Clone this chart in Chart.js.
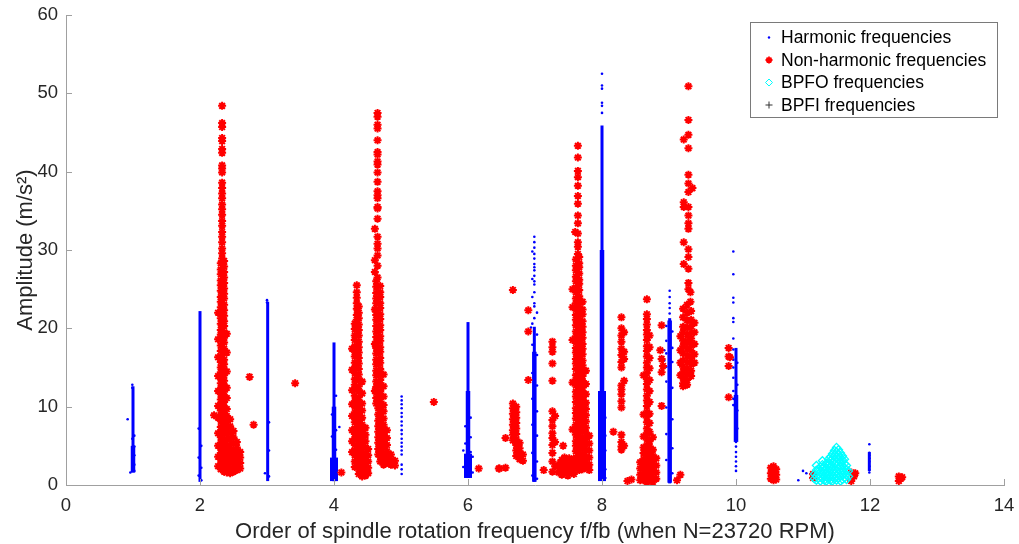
<!DOCTYPE html>
<html>
<head>
<meta charset="utf-8">
<script src="https://cdn.jsdelivr.net/npm/chart.js@4.4.0/dist/chart.umd.min.js"></script>
<style>
  html, body { margin: 0; padding: 0; background: #fff; }
  #wrap { width: 1019px; height: 544px; }
</style>
</head>
<body>
<div id="wrap"><canvas id="spectrumChart" width="1019" height="544"></canvas></div>
<script>
// x ticks and y ticks
const xTicks = [0, 2, 4, 6, 8, 10, 12, 14];
const yTicks = [0, 10, 20, 30, 40, 50, 60];

// harmonic columns: dense parts as segments [order, low, high]
const harmonicThin = [[1.0, 1.6, 12.6], [2.0, 0.4, 22.2], [3.01, 0.5, 23.4], [4.0, 0.5, 18.2], [6.0, 0.9, 20.8], [6.99, 0.4, 20.2], [8.0, 0.5, 45.9], [9.01, 0.2, 21.3], [10.0, 6.1, 17.5], [11.99, 1.8, 4.2]];
const harmonicBody = [[1.0, 1.6, 5.0], [4.0, 0.5, 10.0], [6.0, 0.9, 12.0], [6.99, 0.4, 17.0], [8.0, 0.5, 30.0], [9.01, 0.3, 21.0], [10.0, 5.5, 11.5]];
const harmonicBase = [[4.0, 0.5, 3.5], [6.0, 0.9, 4.0], [8.0, 0.5, 12.0]];

// harmonic single points [order, [amplitudes]]
const harmonicDots = [
    [0.92, [8.4]], [0.96, [1.6]], [0.99, [12.8, 12.4, 5.9, 4.6, 3.2, 2.0]], [1.02, [6.3, 4.9, 3.8, 2.6, 1.8]],
    [1.98, [7.2, 3.5, 1.2]], [2.02, [5.0, 2.2, 0.6]],
    [2.97, [1.5]], [3.0, [23.6, 23.3]], [3.03, [8.0, 4.4, 1.1]],
    [3.97, [9.0, 6.2, 3.1, 1.4, 0.7]], [4.03, [11.4, 7.0, 4.5, 2.2, 0.9]], [4.08, [7.4]],
    [5.01, [11.3, 10.8, 10.3, 9.8, 9.2, 8.7, 8.1, 7.6, 7.0, 6.5, 5.9, 5.4, 4.9, 4.4, 3.9, 2.6, 2.0, 1.4]],
    [5.96, [7.5, 5.3, 3.4, 1.9, 1.1]], [6.04, [8.6, 6.1, 4.2, 2.7, 1.3]], [5.93, [4.4, 2.3]], [6.07, [3.6, 1.6]],
    [6.99, [31.7, 31.0, 30.3, 29.5, 28.9, 28.2, 27.8, 27.4, 26.7, 26.0, 25.6, 24.6, 23.2, 22.8, 21.3]],
    [6.96, [29.8, 26.3, 24.0, 20.6, 17.9, 14.3, 11.0, 7.7, 4.1, 1.2]], [7.03, [22.0, 19.2, 16.6, 12.7, 9.4, 6.3, 3.0, 0.8]], [6.94, [20.1]],
    [8.0, [52.5, 51.0, 50.6, 48.8, 48.4, 47.5]], [7.96, [9.5, 7.4, 5.2, 3.1, 1.2]], [8.05, [8.6, 6.3, 4.4, 2.0, 0.9]],
    [9.01, [24.8, 24.0, 23.2, 22.6, 21.9]], [8.96, [20.3, 18.4, 16.8, 15.1, 13.2, 9.9, 6.5, 3.2]], [9.05, [19.6, 17.5, 15.7, 12.4, 8.4, 4.7, 1.5]], [8.93, [17.2, 15.9]],
    [9.96, [29.8, 26.9, 23.9, 23.3, 21.3, 20.8, 18.7, 17.3, 16.0, 15.0, 13.7, 12.0, 11.0, 10.2]], [10.0, [5.5, 4.9, 4.2, 3.6, 3.0, 2.4, 1.8]], [10.02, [15.6, 12.8, 9.5, 7.2]],
    [10.93, [0.6]], [11.0, [1.8]], [11.05, [1.5]],
    [11.99, [5.2, 4.1, 3.8, 3.4, 3.0, 2.4, 1.9, 1.6]]
];

// non-harmonic clusters [order, [amplitudes]]
const redNear2 = [
    [2.33, [48.4, 46.2, 45.7, 44.3, 43.9, 42.9, 42.4, 40.8, 40.4, 39.9, 38.6, 37.9, 37.2, 36.6, 35.8, 35.2, 34.5, 33.7, 33.1, 32.3, 31.7, 31.0, 30.2, 29.6, 28.9]],
    [2.31, [28.3, 27.5, 26.9, 26.1, 25.5, 24.8, 24.0, 23.4, 22.7, 21.9, 21.3, 20.6, 19.8, 19.2, 18.5, 17.8, 17.1, 16.4, 15.7, 15.0, 14.4, 13.6, 13.0, 12.3, 11.6, 10.9, 10.3, 9.5, 8.9, 8.2, 7.4, 6.8, 6.1, 5.4, 4.7, 4.1, 3.3, 2.7, 2.0]],
    [2.36, [28.6, 27.9, 27.2, 26.5, 25.8, 25.1, 24.4, 23.8, 23.0, 22.3, 21.6, 20.9, 20.3, 19.5, 18.8, 18.2, 17.4, 16.8, 16.0, 15.4, 14.7, 14.0, 13.3, 12.7, 11.9, 11.3, 10.6, 9.9, 9.2, 8.5, 7.8, 7.1, 6.5, 5.7, 5.1, 4.4, 3.7, 3.0, 2.3, 1.7]],
    [2.27, [22.0, 18.6, 16.3, 13.9, 12.0, 10.1, 8.6, 6.6, 5.0, 3.6, 2.4]],
    [2.40, [19.3, 16.9, 14.5, 12.4, 11.1, 9.7, 8.8, 8.0, 7.3, 6.5, 5.8, 5.0, 4.3, 3.6, 2.9, 2.2, 1.6]],
    [2.45, [8.4, 7.5, 6.7, 5.9, 5.1, 4.4, 3.6, 2.9, 2.1, 1.5]],
    [2.50, [6.9, 6.1, 5.3, 4.5, 3.8, 3.1, 2.4, 1.7]],
    [2.55, [5.5, 4.8, 4.0, 3.3, 2.6, 1.9]],
    [2.60, [4.2, 3.5, 2.8, 2.1]]
];
const redNear4 = [
    [4.34, [25.5, 24.6, 23.9, 23.2, 22.5, 21.7, 21.1]],
    [4.31, [20.6, 19.9, 19.1, 18.5, 17.7, 17.0, 16.4, 15.6, 14.9, 14.3, 13.5, 12.8, 12.2, 11.4, 10.7, 10.1, 9.3, 8.6, 8.0, 7.2, 6.5, 5.9, 5.1, 4.4, 3.8, 3.0, 2.3]],
    [4.37, [22.8, 22.0, 21.3, 20.5, 19.8, 19.1, 18.3, 17.6, 16.9, 16.2, 15.5, 14.8, 14.1, 13.4, 12.6, 12.0, 11.2, 10.5, 9.8, 9.1, 8.4, 7.7, 7.0, 6.3, 5.6, 4.9, 4.1, 3.4, 2.7, 2.0, 1.4]],
    [4.27, [17.4, 14.7, 12.1, 10.3, 8.8, 7.0, 5.6, 4.2]],
    [4.42, [13.2, 11.7, 10.4, 9.5, 8.6, 7.7, 6.9, 6.1, 5.3, 4.6, 3.8, 3.1, 2.4, 1.7, 1.1]],
    [4.47, [7.3, 6.4, 5.6, 4.8, 4.0, 3.2, 2.5, 1.8, 1.2]],
    [4.51, [4.6, 3.8, 3.0, 2.2, 1.5]]
];
const redNear5 = [
    [4.65, [47.5, 47.0, 46.0, 45.5, 44.0, 42.5, 42.2, 41.3, 40.9, 39.9, 38.7, 37.5, 37.0, 36.6, 35.5, 35.3, 34.0, 31.7, 30.8, 30.2, 29.3, 28.0, 26.5]],
    [4.61, [32.7, 28.7, 27.2, 22.4, 18.0, 12.0]],
    [4.63, [26.0, 25.3, 24.5, 23.8, 23.2, 22.4, 21.7, 21.1, 20.3, 19.6, 18.9, 18.1, 17.5, 16.8, 16.0, 15.4, 14.6, 14.0, 13.2, 12.5, 11.9, 11.1, 10.4]],
    [4.69, [25.4, 24.6, 24.0, 23.2, 22.6, 21.8, 21.2, 20.4, 19.8, 19.0, 18.4, 17.6, 17.0, 16.2, 15.6, 14.8, 14.2, 13.4, 12.8, 12.0, 11.4, 10.6, 10.0, 9.2, 8.6, 7.8, 7.2, 6.4, 5.8, 5.0, 4.4, 3.6, 3.0]],
    [4.66, [10.9, 9.8, 9.0, 8.2, 7.5, 6.8, 6.1, 5.4, 4.6, 3.9]],
    [4.74, [14.1, 12.6, 11.3, 10.2, 9.4, 8.5, 7.7, 6.9, 6.2, 5.5, 4.8, 4.0, 3.3, 2.6]],
    [4.79, [7.0, 6.0, 5.1, 4.3, 3.5, 2.8]],
    [4.85, [3.9, 3.2, 2.6]],
    [4.91, [3.1, 2.5]]
];
const redNear7 = [
    [6.67, [24.9, 10.4, 9.8, 9.1, 8.4, 7.7, 7.0, 6.4, 5.7]],
    [6.72, [10.0, 9.3, 8.6, 7.9, 7.2, 6.5, 5.8, 5.1, 4.4, 3.7]],
    [6.77, [5.4, 4.7, 4.0, 3.3]],
    [6.82, [3.9, 3.1]],
    [6.56, [6.0, 2.2]], [6.47, [2.1]],
    [6.90, [22.3, 19.6, 13.4]],
    [7.13, [1.9]],
    [7.26, [18.3, 17.6, 17.0, 15.5, 13.3, 9.4, 8.3, 7.5, 6.6, 6.0, 5.1, 4.1, 3.0, 1.7]],
    [7.30, [8.8, 5.5, 2.4]],
    [7.35, [2.5, 1.6]], [7.38, [2.9, 1.9]], [7.40, [3.2, 2.1, 1.3]], [7.42, [5.0]],
    [7.44, [3.5, 2.4, 1.5]], [7.46, [2.8, 1.8]], [7.49, [2.0, 1.2]], [7.51, [3.4, 2.4, 1.5]],
    [7.54, [2.9, 1.9]], [7.58, [2.6, 1.4]]
];
const redNear8 = [
    [7.64, [43.3, 41.8, 40.1, 39.3, 38.2, 36.9, 35.9, 34.4, 33.4, 32.1, 31.0, 30.4, 29.5]],
    [7.60, [32.3]],
    [7.61, [28.8, 28.0, 27.4, 26.6, 26.0, 25.2, 24.6, 23.8, 23.2, 22.5, 21.7, 21.1, 20.4, 19.6, 19.0, 18.3, 17.5, 16.9, 16.1, 15.5, 14.8, 14.0, 13.4, 12.7, 11.9, 11.3, 10.6, 9.8, 9.2, 8.5, 7.7, 7.1, 6.4, 5.6, 5.0, 4.3, 3.5, 2.9, 2.2]],
    [7.66, [29.1, 28.3, 27.8, 27.0, 26.2, 25.7, 24.9, 24.1, 23.6, 22.8, 22.0, 21.5, 20.7, 19.9, 19.4, 18.6, 17.8, 17.3, 16.5, 15.7, 15.2, 14.4, 13.6, 13.1, 12.3, 11.5, 11.0, 10.2, 9.4, 8.9, 8.1, 7.3, 6.8, 6.0, 5.2, 4.7, 3.9, 3.1, 2.6, 1.9]],
    [7.71, [23.4, 22.4, 21.8, 20.9, 20.2, 19.5, 18.8, 18.0, 17.4, 16.7, 15.9, 15.3, 14.5, 13.9, 13.2, 12.4, 11.8, 11.1, 10.3, 9.7, 9.0, 8.2, 7.6, 6.9, 6.1, 5.5, 4.8, 4.0, 3.4, 2.7, 2.0]],
    [7.76, [14.6, 12.9, 11.6, 10.5, 9.7, 8.9, 8.1, 7.3, 6.6, 5.8, 5.1, 4.4, 3.6, 2.9, 2.2]],
    [7.81, [6.3, 5.3, 4.4, 3.5, 2.6, 1.9]],
    [7.56, [25.0, 22.7, 18.5, 13.1, 7.1, 3.2, 2.3, 1.6]],
    [8.17, [6.8]],
    [8.29, [21.4, 20.0, 19.1, 18.3, 17.4, 16.6, 15.7, 15.0, 12.7, 12.2, 11.6, 10.7, 9.9, 6.4, 5.5, 4.9, 4.5]],
    [8.33, [19.5, 17.0, 16.1, 13.3, 5.0]]
];
const redNear9 = [
    [8.67, [23.7, 21.8, 21.2, 20.5, 19.8, 19.2, 18.5, 17.7, 17.1, 16.4, 15.6, 15.0, 14.3, 13.5, 12.9, 12.2, 11.4, 10.8, 10.1, 9.3, 8.7, 8.0, 7.2, 6.6, 5.9, 5.1, 4.5, 3.8, 3.0, 2.4, 1.7, 0.9, 0.4]],
    [8.71, [19.1, 17.6, 16.2, 14.9, 13.4, 12.0, 10.6, 9.1, 7.9, 6.8, 5.6, 4.9, 4.1, 3.4, 2.7, 2.0, 1.3, 0.6]],
    [8.62, [14.0, 9.0, 6.2, 4.8, 4.1, 3.3, 2.6, 1.9, 1.2, 0.6]],
    [8.76, [6.1, 4.5, 3.7, 3.0, 2.3, 1.6, 0.9, 0.4]],
    [8.57, [2.9, 2.1, 1.3, 0.6]],
    [8.81, [3.4, 2.5, 1.6, 0.8]],
    [8.38, [0.5]], [8.44, [0.7]],
    [8.89, [20.4, 16.1, 14.4, 10.1]], [8.87, [17.2]], [8.91, [15.2]],
    [9.12, [0.6]], [9.17, [1.3]],
    [9.29, [50.9, 46.6, 44.7, 43.0, 39.6, 38.5, 37.4, 35.5, 34.4, 33.4, 32.7, 30.1, 29.1, 27.6, 25.8, 25.0]],
    [9.22, [44.1, 36.1, 35.5, 31.0, 28.2]],
    [9.35, [37.9]], [9.32, [24.6, 23.4]],
    [9.21, [22.5, 21.4, 20.2, 19.5, 18.4, 17.7, 16.8, 15.9, 15.1, 14.4, 13.7, 13.0, 12.6]],
    [9.27, [23.0, 22.0, 21.0, 20.1, 19.2, 18.3, 17.5, 16.6, 15.7, 14.9, 14.2, 13.4, 12.8]],
    [9.33, [22.2, 21.1, 20.3, 19.4, 18.7, 17.9, 17.1, 16.2, 15.4, 14.6, 13.9]],
    [9.38, [20.7, 19.5, 18.0, 16.7, 15.6]],
    [9.17, [19.0, 17.2, 15.6, 14.0]]
];
const redHigh = [
    [9.89, [17.5, 16.4, 15.2, 11.2]], [9.91, [16.3]],
    [10.52, [2.2, 1.5, 0.8]], [10.56, [2.4, 1.8, 1.1, 0.6]], [10.60, [2.0, 1.3, 0.7]],
    [11.15, [1.4, 0.9]], [11.72, [1.6, 0.5]], [11.76, [1.1]], [11.78, [1.5]],
    [12.43, [1.1, 0.5]], [12.46, [0.8]], [12.48, [1.0]]
];
const redScattered = [
    [2.21, [8.9]], [2.74, [13.8]], [2.80, [7.7]], [3.42, [13.0]], [4.11, [1.6]],
    [5.49, [10.6]], [6.16, [2.1]], [6.46, [2.1]]
];

// BPFO points
const bpfoPoints = [
    [11.17, [1.4, 0.8]], [11.20, [2.5, 1.9, 1.2, 0.6]], [11.23, [2.0, 1.4, 0.9]],
    [11.26, [2.3, 1.7, 1.0, 0.5]], [11.29, [3.1, 2.6, 2.1, 1.4, 0.8]], [11.32, [2.4, 1.9, 1.2, 0.6]],
    [11.35, [2.8, 2.2, 1.5, 1.0, 0.5]], [11.38, [3.3, 2.6, 2.0, 1.4, 0.8]], [11.41, [3.6, 3.1, 2.4, 1.9, 1.2, 0.6]],
    [11.44, [4.0, 3.4, 2.9, 2.2, 1.6, 1.0, 0.5]], [11.47, [4.4, 3.8, 3.2, 2.7, 2.0, 1.4, 0.8]],
    [11.50, [4.8, 4.2, 3.6, 3.0, 2.5, 1.8, 1.2, 0.6]], [11.53, [4.5, 3.9, 3.4, 2.7, 2.1, 1.5, 0.9]],
    [11.56, [4.1, 3.5, 2.9, 2.4, 1.7, 1.1, 0.5]], [11.59, [3.7, 3.2, 2.5, 1.9, 1.3, 0.7]],
    [11.62, [3.3, 2.7, 2.1, 1.5, 0.9]], [11.65, [2.5, 1.9, 1.3, 0.7]], [11.68, [1.8, 1.1]]
];
// BPFI points (none visible)
const bpfiPoints = [];

function columnsToPoints(cols) {
    const pts = [];
    cols.forEach(([x, ys]) => ys.forEach(y => pts.push({ x: x, y: y })));
    return pts;
}

function spineDatasets(segments, width) {
    return segments.map(([x, lo, hi]) => ({
        label: 'core',
        data: [{ x: x, y: lo }, { x: x, y: hi }],
        showLine: true,
        borderColor: '#0000ff',
        borderWidth: width,
        pointRadius: 0,
        order: 6
    }));
}

const redAll = [].concat(redNear2, redNear4, redNear5, redNear7, redNear8, redNear9, redHigh, redScattered);

const textFont = '"Liberation Sans", Arial, sans-serif';

// legend box drawn like a MATLAB legend
const boxLegend = {
    id: 'boxLegend',
    afterDraw(chart) {
        const ctx = chart.ctx;
        const area = chart.chartArea;
        const w = 247, h = 95;
        const x0 = Math.round(area.right - 7 - w), y0 = Math.round(area.top + 7);
        ctx.save();
        ctx.fillStyle = '#fff';
        ctx.fillRect(x0, y0, w, h);
        ctx.strokeStyle = '#7a7a7a';
        ctx.lineWidth = 1;
        ctx.strokeRect(x0 + 0.5, y0 + 0.5, w, h);
        ctx.font = '17.5px ' + textFont;
        ctx.textBaseline = 'middle';
        chart.data.datasets.slice(0, 4).forEach((d, i) => {
            const cy = y0 + 15.5 + i * 22.5;
            ctx.fillStyle = d.backgroundColor;
            ctx.strokeStyle = d.borderColor;
            ctx.lineWidth = d.legendBorder;
            Chart.helpers.drawPoint(ctx, { pointStyle: d.pointStyle, radius: d.legendRadius, borderWidth: d.legendBorder, rotation: 0 }, x0 + 19, cy);
            ctx.fillStyle = '#000';
            ctx.fillText(d.label, x0 + 31, cy + 1);
        });
        ctx.restore();
    }
};

// tick marks pointing into the axes
const inwardTicks = {
    id: 'inwardTicks',
    afterDatasetsDraw(chart) {
        const { ctx, chartArea: a, scales } = chart;
        ctx.save();
        ctx.strokeStyle = '#a0a0a0';
        ctx.lineWidth = 1;
        ctx.beginPath();
        scales.x.ticks.forEach(t => {
            const px = Math.round(scales.x.getPixelForValue(t.value)) + 0.5;
            ctx.moveTo(px, a.bottom);
            ctx.lineTo(px, a.bottom - 6);
        });
        scales.y.ticks.forEach(t => {
            const py = Math.round(scales.y.getPixelForValue(t.value)) + 0.5;
            ctx.moveTo(a.left, py);
            ctx.lineTo(a.left + 6, py);
        });
        ctx.stroke();
        ctx.restore();
    }
};

const datasets = [
    {
        label: 'Harmonic frequencies',
        data: columnsToPoints(harmonicDots),
        pointStyle: 'circle',
        pointRadius: 1.3,
        legendRadius: 1.2,
        legendBorder: 0,
        backgroundColor: '#0000ff',
        borderColor: '#0000ff',
        borderWidth: 0,
        order: 5
    },
    {
        label: 'Non-harmonic frequencies',
        data: columnsToPoints(redAll),
        pointStyle: 'star',
        pointRadius: 4,
        legendRadius: 3.5,
        legendBorder: 1.8,
        backgroundColor: '#ff0000',
        borderColor: '#ff0000',
        borderWidth: 2,
        order: 2
    },
    {
        label: 'BPFO frequencies',
        data: columnsToPoints(bpfoPoints),
        pointStyle: 'rectRot',
        pointRadius: 4,
        legendRadius: 3.5,
        legendBorder: 1,
        backgroundColor: 'rgba(0,0,0,0)',
        borderColor: '#00ffff',
        borderWidth: 1.3,
        order: 1
    },
    {
        label: 'BPFI frequencies',
        data: columnsToPoints(bpfiPoints),
        pointStyle: 'cross',
        pointRadius: 4,
        legendRadius: 3.5,
        legendBorder: 1,
        backgroundColor: '#333333',
        borderColor: '#333333',
        borderWidth: 1,
        order: 0
    }
].concat(spineDatasets(harmonicThin, 3), spineDatasets(harmonicBody, 4.5), spineDatasets(harmonicBase, 8));

new Chart(document.getElementById('spectrumChart').getContext('2d'), {
    type: 'scatter',
    data: { datasets: datasets },
    options: {
        responsive: false,
        animation: false,
        events: [],
        layout: { padding: { top: 15, right: 15, left: 0, bottom: 0 } },
        plugins: {
            legend: { display: false },
            tooltip: { enabled: false }
        },
        scales: {
            x: {
                type: 'linear',
                min: 0,
                max: 14,
                afterFit(scale) { scale.height = 59; scale.paddingLeft = 0; scale.paddingRight = 0; },
                afterBuildTicks(scale) { scale.ticks = xTicks.map(v => ({ value: v })); },
                grid: { display: false, drawTicks: false },
                border: { display: true, color: '#a0a0a0', width: 1 },
                ticks: { color: '#262626', padding: 10, font: { family: textFont, size: 18.5 } },
                title: {
                    display: true,
                    text: 'Order of spindle rotation frequency f/fb (when N=23720 RPM)',
                    color: '#262626',
                    font: { family: textFont, size: 22 },
                    padding: { top: 0, bottom: -1 }
                }
            },
            y: {
                type: 'linear',
                min: 0,
                max: 60,
                afterFit(scale) { scale.width = 66; scale.paddingTop = 0; scale.paddingBottom = 0; },
                afterBuildTicks(scale) { scale.ticks = yTicks.map(v => ({ value: v })); },
                grid: { display: false, drawTicks: false },
                border: { display: true, color: '#a0a0a0', width: 1 },
                ticks: { color: '#262626', padding: 8, font: { family: textFont, size: 18.5 } },
                title: {
                    display: true,
                    text: 'Amplitude (m/s²)',
                    color: '#262626',
                    font: { family: textFont, size: 22 },
                    padding: { top: 13, bottom: 0 }
                }
            }
        }
    },
    plugins: [inwardTicks, boxLegend]
});
</script>
</body>
</html>
